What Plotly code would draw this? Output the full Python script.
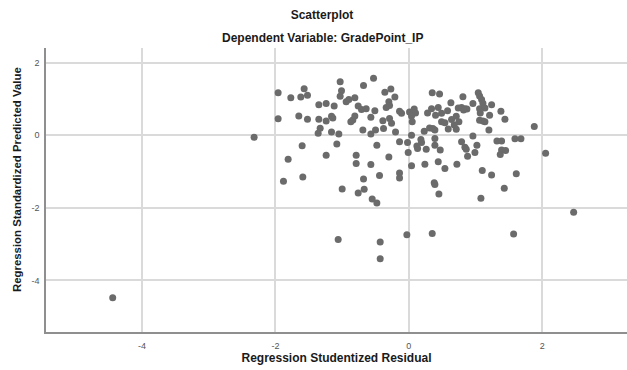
import plotly.graph_objects as go

# Regression Studentized Residual (x) and Regression Standardized Predicted Value (y)
resid = [
    -4.44, -2.32, -1.96, -1.96, -1.77, -1.62, -1.57, -1.52, -1.65, -1.52,
    -1.35, -1.24, -1.12, -1.35, -1.24, -1.16, -1.14, -1.33, -1.36, -1.16,
    -1.05, -1.03, -1.01, -1.03, -0.94, -0.90, -0.81, -0.76, -0.71, -0.64,
    -0.81, -0.84, -0.87, -0.68, -0.53, -0.51, -0.57, -0.69, -0.57, -0.50,
    -0.38, -0.36, -0.27, -0.30, -0.34, -0.29, -0.39, -0.29, -0.26, -0.20,
    -0.21, -0.14, -0.11, -1.60, -1.08, -0.48, -0.14, -1.81, -1.24, -0.79,
    -0.79, -0.57, -0.30, -1.88, -1.59, -1.00, -0.68, -0.44, -0.76, -0.67,
    -0.55, -0.48, -1.06, -0.43, -0.43, -0.14, -0.14,
    0.01, 0.08, 0.10, 0.04, 0.05, 0.28, 0.35, 0.46, 0.34, 0.44,
    0.40, 0.49, 0.58, 0.63, 0.74, 0.79, 0.84, 0.87, 0.81, 0.82,
    0.71, 0.64, 0.75, 0.49, 0.54, 0.59, 0.68, 0.71, 0.96, 1.04,
    1.06, 1.09, 1.11, 1.24, 1.06, 1.14, 1.07, 1.21, 1.06, 1.11,
    1.14, 1.38, 1.44, 1.20, 1.88, 0.23, 0.31, 0.36, 0.39, 0.96,
    0.04, -0.02, 0.18, 0.19, 0.12, 0.13, 0.26, 0.39, 0.39, 0.47,
    0.79, 0.84, 0.86, 1.02, 0.99, 0.88, 1.32, 1.39, 1.59, 1.68,
    1.39, 1.45, 1.37, 2.05, -0.01, 0.04, 0.24, 0.44, 0.54, 0.72,
    0.38, 0.39, 0.45, 1.10, 1.24, 1.61, 1.43, 1.08, -0.03, 0.35,
    1.57, 2.47,
]
predicted = [
    -4.48, -0.06, 1.17, 0.45, 1.03, 1.05, 1.28, 1.10, 0.53, 0.44,
    0.84, 0.87, 0.80, 0.44, 0.39, 0.52, 0.47, 0.19, 0.05, 0.09,
    0.03, 1.47, 1.22, 1.07, 0.92, 0.98, 1.03, 0.80, 0.71, 0.73,
    0.53, 0.42, 0.37, 1.37, 1.57, 0.67, 0.49, 0.14, 0.03, 0.14,
    0.18, 1.18, 1.27, 0.92, 0.76, 0.82, 0.40, 0.46, 0.33, 0.09,
    1.05, 0.66, 0.60, -0.29, -0.24, -0.28, -0.18, -0.66, -0.55, -0.55,
    -0.78, -0.81, -0.60, -1.27, -1.15, -1.48, -1.21, -1.11, -1.59, -1.49,
    -1.76, -1.87, -2.87, -2.94, -3.40, -1.04, -1.18,
    0.64, 0.72, 0.61, 0.53, 0.37, 0.61, 1.17, 1.13, 0.73, 0.76,
    0.55, 0.60, 0.67, 0.89, 0.75, 0.76, 0.73, 0.72, 1.06, 0.69,
    0.52, 0.43, 0.37, 0.37, 0.34, 0.17, 0.28, 0.16, 0.87, 1.17,
    1.08, 0.98, 0.88, 0.84, 0.73, 0.75, 0.61, 0.55, 0.41, 0.39,
    0.37, 0.66, 0.44, 0.14, 0.24, 0.11, 0.20, 0.18, 0.14, -0.02,
    0.00, -0.20, -0.12, -0.20, -0.30, -0.37, -0.39, -0.09, -0.28, -0.41,
    -0.18, -0.33, -0.39, -0.28, -0.48, -0.58, -0.16, -0.16, -0.10, -0.10,
    -0.41, -0.42, -0.53, -0.50, -0.48, -0.84, -0.80, -0.73, -0.92, -0.80,
    -1.31, -1.36, -1.62, -0.97, -1.10, -1.06, -1.46, -1.74, -2.74, -2.71,
    -2.72, -2.12,
]

x_ticks = [-4, -2, 0, 2]
y_ticks = [2, 0, -2, -4]

FONT = "Liberation Sans, Arial, sans-serif"
TITLE_COLOR = "#1a1a1a"

fig = go.Figure()
fig.add_trace(go.Scatter(
    x=resid, y=predicted, mode="markers",
    marker=dict(size=7, color="#6b6b6b", line=dict(width=0)),
    hoverinfo="x+y", showlegend=False,
))

fig.update_layout(
    width=627, height=370,
    margin=dict(l=46, r=0, t=48, b=38),
    paper_bgcolor="white", plot_bgcolor="white",
    font=dict(family=FONT, color="#222222"),
    title=dict(text="Scatterplot", x=322 / 627, xref="container", xanchor="center",
               y=1 - 15 / 370, yref="container", yanchor="middle",
               font=dict(size=12, weight="bold", color=TITLE_COLOR)),
    annotations=[
        dict(text="Dependent Variable: GradePoint_IP", xref="paper", yref="paper",
             x=(322 - 46) / 581, y=(332 - 38) / 284, xanchor="center", yanchor="middle",
             showarrow=False, font=dict(size=12, weight="bold", color=TITLE_COLOR)),
        dict(text="Regression Standardized Predicted Value", xref="paper", yref="paper",
             x=(17 - 46) / 581, y=(332 - 180) / 284, xanchor="center", yanchor="middle",
             textangle=-90, showarrow=False,
             font=dict(size=11.4, weight="bold", color=TITLE_COLOR)),
    ],
)

fig.update_xaxes(
    range=[-5.44, 3.27], tickvals=x_ticks, ticktext=[str(v) for v in x_ticks],
    showgrid=True, gridcolor="#dadada", gridwidth=1.5, zeroline=False,
    showline=True, linecolor="#8f8f8f", linewidth=1.5, mirror=False,
    ticks="outside", ticklen=4, tickcolor="rgba(0,0,0,0)",
    tickfont=dict(size=9, color="#555555"),
    title=dict(text="Regression Studentized Residual", standoff=4,
               font=dict(size=12, weight="bold", color=TITLE_COLOR)),
)
fig.update_yaxes(
    range=[-5.42, 2.40], tickvals=y_ticks, ticktext=[str(v) for v in y_ticks],
    showgrid=True, gridcolor="#dadada", gridwidth=1.5, zeroline=False,
    showline=True, linecolor="#8f8f8f", linewidth=1.5, mirror=False,
    ticks="outside", ticklen=3, tickcolor="rgba(0,0,0,0)",
    tickfont=dict(size=9, color="#555555"),
)

fig.write_html(
    "out.html",
    config={"displayModeBar": False},
    post_script="document.body.style.margin='0';document.body.style.overflow='hidden';",
)
